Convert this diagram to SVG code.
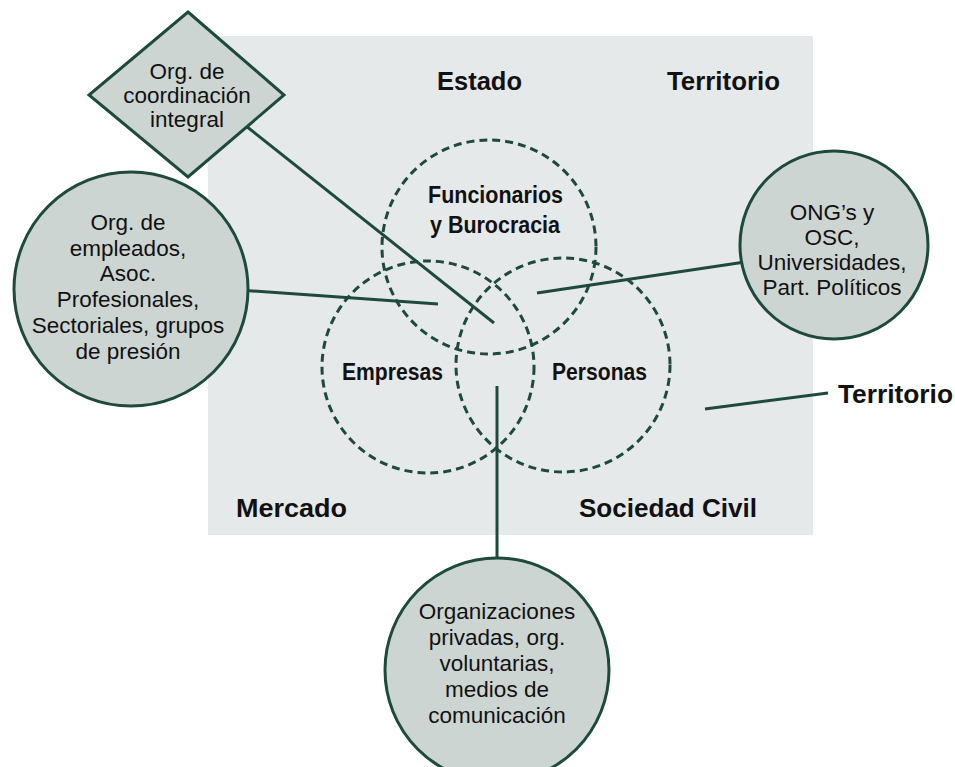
<svg xmlns="http://www.w3.org/2000/svg" width="955" height="767" viewBox="0 0 955 767">
<style>
.bg{fill:#e6e9e9}
.node{fill:#cdd5d2;stroke:#1d4a3c;stroke-width:3}
.ring{fill:none;stroke:#1d4a3c;stroke-width:3;stroke-dasharray:8 5}
.conn{stroke:#1d4a3c;stroke-width:3;fill:none}
.t{font-family:"Liberation Sans",Arial,sans-serif;font-size:22.5px;fill:#111;text-anchor:middle}
.b{font-family:"Liberation Sans",Arial,sans-serif;font-size:26px;font-weight:bold;fill:#111}
.c{font-family:"Liberation Sans Narrow","Liberation Sans",Arial,sans-serif;font-size:24px;font-weight:bold;fill:#111}
</style>
<rect class="bg" x="208" y="36" width="605" height="499"/>
<g id="labels">
<text class="b" x="437" y="90" textLength="85" lengthAdjust="spacingAndGlyphs">Estado</text>
<text class="b" x="667" y="90" textLength="113" lengthAdjust="spacingAndGlyphs">Territorio</text>
<text class="b" x="236" y="517" textLength="111" lengthAdjust="spacingAndGlyphs">Mercado</text>
<text class="b" x="579" y="517" textLength="178" lengthAdjust="spacingAndGlyphs">Sociedad Civil</text>
<text class="b" x="838" y="403" textLength="115" lengthAdjust="spacingAndGlyphs">Territorio</text>
</g>
<g id="connectors">
<line class="conn" x1="246" y1="126" x2="494" y2="323"/>
<line class="conn" x1="238" y1="290" x2="438" y2="304"/>
<line class="conn" x1="537" y1="293" x2="745" y2="262"/>
<line class="conn" x1="497" y1="386" x2="497" y2="562"/>
<line class="conn" x1="705" y1="409" x2="828" y2="393"/>
</g>
<g id="funcionarios">
<circle class="ring" cx="489" cy="247" r="107"/>
<text class="c" x="428" y="203" textLength="135" lengthAdjust="spacingAndGlyphs">Funcionarios</text>
<text class="c" x="430" y="233" textLength="130" lengthAdjust="spacingAndGlyphs">y Burocracia</text>
</g>
<g id="empresas">
<circle class="ring" cx="428" cy="367" r="106"/>
<text class="c" x="342" y="380" textLength="101" lengthAdjust="spacingAndGlyphs">Empresas</text>
</g>
<g id="personas">
<circle class="ring" cx="563" cy="365" r="107"/>
<text class="c" x="552" y="380" textLength="95" lengthAdjust="spacingAndGlyphs">Personas</text>
</g>
<g id="coordinacion">
<polygon class="node" points="188,12 284,95 188,177 89,95"/>
<text class="t" x="187" y="79">Org. de</text>
<text class="t" x="187" y="103">coordinación</text>
<text class="t" x="187" y="127">integral</text>
</g>
<g id="empleados">
<circle class="node" cx="131" cy="289" r="117"/>
<text class="t" x="128" y="230">Org. de</text>
<text class="t" x="128" y="256">empleados,</text>
<text class="t" x="128" y="281">Asoc.</text>
<text class="t" x="128" y="307">Profesionales,</text>
<text class="t" x="128" y="333">Sectoriales, grupos</text>
<text class="t" x="128" y="359">de presión</text>
</g>
<g id="ong">
<circle class="node" cx="834" cy="245" r="94"/>
<text class="t" x="832" y="220">ONG’s y</text>
<text class="t" x="832" y="245">OSC,</text>
<text class="t" x="832" y="270">Universidades,</text>
<text class="t" x="832" y="295">Part. Políticos</text>
</g>
<g id="organizaciones">
<circle class="node" cx="497" cy="670" r="112"/>
<text class="t" x="497" y="619">Organizaciones</text>
<text class="t" x="497" y="645">privadas, org.</text>
<text class="t" x="497" y="671">voluntarias,</text>
<text class="t" x="497" y="697">medios de</text>
<text class="t" x="497" y="723">comunicación</text>
</g>
</svg>
